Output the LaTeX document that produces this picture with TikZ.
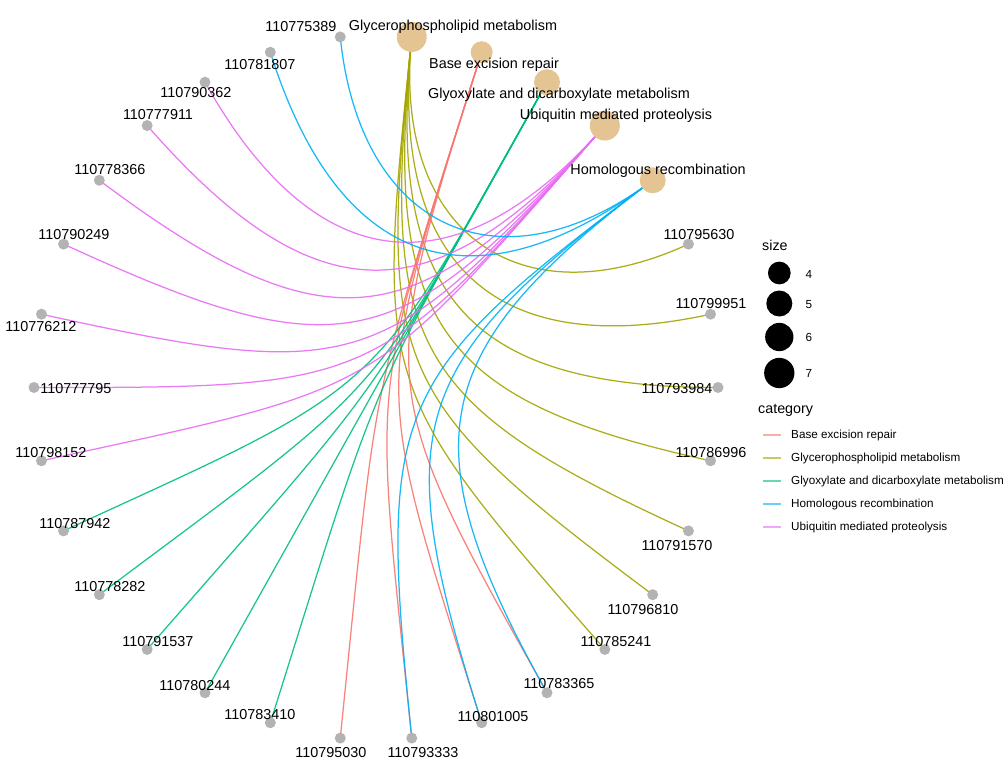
\documentclass[tikz,border=0pt]{standalone}
\usepackage{fontspec}
\setmainfont{Liberation Sans}
\usetikzlibrary{calc}
\pgfdeclarelayer{edges}
\pgfsetlayers{edges,main}
\definecolor{genegray}{HTML}{B3B3B3}
\definecolor{catfill}{HTML}{E5C494}
\definecolor{cBER}{HTML}{F8766D}
\definecolor{cGP}{HTML}{A3A500}
\definecolor{cGLY}{HTML}{00BF7D}
\definecolor{cHR}{HTML}{00B0F6}
\definecolor{cUBI}{HTML}{E76BF3}
\begin{document}
\begin{tikzpicture}[x=1pt,y=-1pt,
  gene/.style={circle,fill=genegray,inner sep=0pt,minimum size=11pt},
  catnode/.style={circle,fill=catfill,inner sep=0pt,minimum size=#1},
  lbl/.style={inner sep=0pt,anchor=base,font=\fontsize{14.4}{16}\selectfont},
  legtitle/.style={inner sep=0pt,anchor=base west,font=\fontsize{14.3}{16}\selectfont},
  legtext/.style={inner sep=0pt,anchor=base west,font=\fontsize{11.7}{13}\selectfont},
  legdot/.style={circle,fill=black,inner sep=0pt,minimum size=#1},
  edgeline/.style={line width=1.25pt,draw opacity=0.9},
  keyline/.style={line width=2pt,draw opacity=0.6}]
\useasboundingbox (0,0) rectangle (1004,776);
\coordinate (O) at (376,387.5);

% gene nodes
\foreach \n/\a in {110775389/96,110781807/108,110790362/120,110777911/132,
  110778366/144,110790249/156,110776212/168,110777795/180,110798152/192,
  110787942/204,110778282/216,110791537/228,110780244/240,110783410/252,
  110795030/264,110793333/276,110801005/288,110783365/300,110785241/312,
  110796810/324,110791570/336,110786996/348,110793984/360,110799951/12,
  110795630/24}{
  \node[gene] (g\n) at ({376+342*cos(\a)},{387.5-352.5*sin(\a)}) {};
}

% category nodes
\node[catnode=26pt] (HR)  at ({376+342*cos(36)},{387.5-352.5*sin(36)}) {};
\node[catnode=30pt] (UBI) at ({376+342*cos(48)},{387.5-352.5*sin(48)}) {};
\node[catnode=26pt] (GLY) at ({376+342*cos(60)},{387.5-352.5*sin(60)}) {};
\node[catnode=22pt] (BER) at ({376+342*cos(72)},{387.5-352.5*sin(72)}) {};
\node[catnode=30pt] (GP)  at ({376+342*cos(84)},{387.5-352.5*sin(84)}) {};

% edges
\begin{pgfonlayer}{edges}
\foreach \c/\g/\a/\b/\col in {
  GP/110795630/84/24/cGP, GP/110799951/84/12/cGP, GP/110793984/84/0/cGP,
  GP/110786996/84/-12/cGP, GP/110791570/84/-24/cGP, GP/110796810/84/-36/cGP,
  GP/110785241/84/-48/cGP,
  BER/110795030/72/-96/cBER, BER/110793333/72/-84/cBER,
  BER/110801005/72/-72/cBER, BER/110783365/72/-60/cBER,
  GLY/110787942/60/204/cGLY, GLY/110778282/60/216/cGLY,
  GLY/110791537/60/228/cGLY, GLY/110780244/60/240/cGLY,
  GLY/110783410/60/252/cGLY,
  UBI/110790362/48/120/cUBI, UBI/110777911/48/132/cUBI,
  UBI/110778366/48/144/cUBI, UBI/110790249/48/156/cUBI,
  UBI/110776212/48/168/cUBI, UBI/110777795/48/180/cUBI,
  UBI/110798152/48/192/cUBI,
  HR/110775389/36/96/cHR, HR/110781807/36/108/cHR,
  HR/110793333/36/-84/cHR, HR/110801005/36/-72/cHR,
  HR/110783365/36/-60/cHR}{
  \pgfmathsetmacro\s{1.1*sin(abs(\a-\b)/2)}
  \draw[edgeline,color=\col] (\c.center) .. controls ($(\c.center)!\s!(O)$)
     and ($(g\g.center)!\s!(O)$) .. (g\g.center);
}
\end{pgfonlayer}

% gene labels
\foreach \n/\x/\y in {110775389/301/26,110781807/260/64,110790362/196/92,
  110777911/158/114,110778366/110/169,110790249/74/234,110776212/41/326,
  110777795/76/388,110798152/51/452,110787942/75/523,110778282/110/586,
  110791537/158/641,110780244/195/685,110783410/260/714,110795030/331/752,
  110793333/423/752,110801005/493/716,110783365/559/683,110785241/616/641,
  110796810/643/609,110791570/677/545,110786996/711/452,110793984/677/388,
  110799951/711/303,110795630/699/234}{
  \node[lbl] (l\n) at (\x,\y+5.2) {\n};
}

% category labels
\node[lbl] (lGP)  at (453,30.2) {Glycerophospholipid metabolism};
\node[lbl] (lBER) at (494,68.2) {Base excision repair};
\node[lbl] (lGLY) at (559,98.2) {Glyoxylate and dicarboxylate metabolism};
\node[lbl] (lUBI) at (616,119.2) {Ubiquitin mediated proteolysis};
\node[lbl] (lHR)  at (658,174.2) {Homologous recombination};

% legend: size
\node[legtitle] (tsize) at (762,250) {size};
\node[legdot=22.7pt] (s4) at (779.3,273) {};
\node[legdot=26pt]   (s5) at (779.3,303.5) {};
\node[legdot=28.3pt] (s6) at (779.3,337) {};
\node[legdot=30.3pt] (s7) at (779.3,373) {};
\node[legtext] (n4) at (805.5,278) {4};
\node[legtext] (n5) at (805.5,308.3) {5};
\node[legtext] (n6) at (805.5,341.3) {6};
\node[legtext] (n7) at (805.5,377.7) {7};

% legend: category
\node[legtitle] (tcat) at (758,413.5) {category};
\foreach \i/\col/\t in {0/cBER/Base excision repair,
  1/cGP/Glycerophospholipid metabolism,
  2/cGLY/Glyoxylate and dicarboxylate metabolism,
  3/cHR/Homologous recombination,
  4/cUBI/Ubiquitin mediated proteolysis}{
  \coordinate (ka\i) at (763,434.5+23*\i);
  \coordinate (kb\i) at (781,434.5+23*\i);
  \draw[keyline,color=\col] (ka\i) -- (kb\i);
  \node[legtext] (kt\i) at (791,438.8+23*\i) {\t};
}
\end{tikzpicture}
\end{document}
